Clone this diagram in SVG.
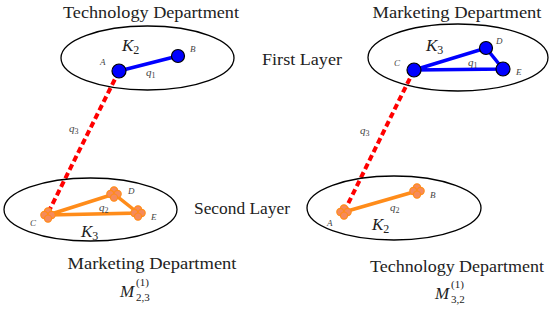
<svg xmlns="http://www.w3.org/2000/svg" width="550" height="314" viewBox="0 0 550 314">
<style>
.t{font-family:'Liberation Serif',serif;font-size:16px;fill:#222}
.m{font-family:'Liberation Serif',serif;font-style:italic;fill:#222}
.lbl{font-family:'Liberation Serif',serif;font-style:italic;fill:#444}
.sub{font-family:'Liberation Serif',serif;fill:#222}
.ell{fill:none;stroke:#000;stroke-width:1.3}
.bl{stroke:#0000ff;stroke-width:3.5;stroke-linecap:round;fill:none}
.or{stroke:#ff8c1a;stroke-width:3.5;stroke-linecap:round;fill:none}
.red{stroke:#ff0000;stroke-width:4;stroke-dasharray:6,3.5;fill:none}
.bn{fill:#0000ff;stroke:#000;stroke-width:1.2}
.on{fill:#f58a5c;stroke:#ff8c1a;stroke-width:1.2}
</style>
<defs>
<g id="clover">
<circle class="on" cx="0" cy="-3.6" r="3.6"/>
<circle class="on" cx="-3.6" cy="0" r="3.6"/>
<circle class="on" cx="3.6" cy="0" r="3.6"/>
<circle class="on" cx="0" cy="3.6" r="3.6"/>
</g>
</defs>
<rect width="550" height="314" fill="#fff"/>

<g id="texts">
<text class="t" x="151" y="18" text-anchor="middle" textLength="176" lengthAdjust="spacingAndGlyphs">Technology Department</text>
<text class="t" x="457" y="18" text-anchor="middle" textLength="169" lengthAdjust="spacingAndGlyphs">Marketing Department</text>
<text class="t" x="302" y="65" text-anchor="middle" textLength="80" lengthAdjust="spacingAndGlyphs">First Layer</text>
<text class="t" x="242" y="214" text-anchor="middle" textLength="96" lengthAdjust="spacingAndGlyphs">Second Layer</text>
<text class="t" x="152" y="269" text-anchor="middle" textLength="169" lengthAdjust="spacingAndGlyphs">Marketing Department</text>
<text class="t" x="457" y="272" text-anchor="middle" textLength="174" lengthAdjust="spacingAndGlyphs">Technology Department</text>
<text class="m" x="120" y="297" font-size="17">M</text>
<text class="sub" x="136" y="286" font-size="11">(1)</text>
<text class="sub" x="136" y="301" font-size="11">2,3</text>
<text class="m" x="435" y="299" font-size="17">M</text>
<text class="sub" x="451" y="288" font-size="11">(1)</text>
<text class="sub" x="451" y="303" font-size="11">3,2</text>
</g>

<g id="connectors">
<line class="red" x1="119" y1="71" x2="48" y2="213"/>
<line class="red" x1="414" y1="70" x2="344" y2="212"/>
<text class="lbl" x="69" y="132" font-size="11">q<tspan font-size="8" dy="2" font-style="normal">3</tspan></text>
<text class="lbl" x="360" y="134" font-size="11">q<tspan font-size="8" dy="2" font-style="normal">3</tspan></text>
</g>

<g id="tech-first">
<ellipse class="ell" cx="147.5" cy="58" rx="86.5" ry="32"/>
<text class="m" x="122" y="51" font-size="17">K<tspan class="sub" font-style="normal" font-size="12" dy="3">2</tspan></text>
<line class="bl" x1="119" y1="71" x2="178" y2="56"/>
<circle class="bn" cx="119" cy="71" r="7"/>
<circle class="bn" cx="178" cy="56" r="6.5"/>
<text class="lbl" font-size="9" x="100" y="65">A</text>
<text class="lbl" font-size="9" x="190" y="52">B</text>
<text class="lbl" x="146" y="76" font-size="11">q<tspan font-size="8" dy="2" font-style="normal">1</tspan></text>
</g>

<g id="mkt-first">
<ellipse class="ell" cx="458" cy="57.5" rx="90" ry="33.5"/>
<text class="m" x="426" y="51" font-size="17">K<tspan class="sub" font-style="normal" font-size="12" dy="3">3</tspan></text>
<polyline class="bl" points="414,70 486,48 503,69 414,70"/>
<circle class="bn" cx="414" cy="70" r="7"/>
<circle class="bn" cx="486" cy="48" r="6.5"/>
<circle class="bn" cx="503" cy="69" r="7"/>
<text class="lbl" font-size="9" x="394" y="66">C</text>
<text class="lbl" font-size="9" x="496" y="44">D</text>
<text class="lbl" font-size="9" x="516" y="75">E</text>
<text class="lbl" x="468" y="66" font-size="11">q<tspan font-size="8" dy="2" font-style="normal">1</tspan></text>
</g>

<g id="mkt-second">
<ellipse class="ell" cx="90.5" cy="209.5" rx="86.5" ry="31.5"/>
<text class="m" x="81" y="237" font-size="17">K<tspan class="sub" font-style="normal" font-size="12" dy="3">3</tspan></text>
<polyline class="or" points="48,215 114,194 138,213 48,215"/>
<use href="#clover" x="48" y="215"/>
<use href="#clover" x="114" y="194"/>
<use href="#clover" x="138" y="213"/>
<text class="lbl" font-size="9" x="30" y="226">C</text>
<text class="lbl" font-size="9" x="128" y="194">D</text>
<text class="lbl" font-size="9" x="151" y="220">E</text>
<text class="lbl" x="99" y="211" font-size="11">q<tspan font-size="8" dy="2" font-style="normal">2</tspan></text>
</g>

<g id="tech-second">
<ellipse class="ell" cx="394" cy="208" rx="87" ry="32"/>
<text class="m" x="372" y="230" font-size="17">K<tspan class="sub" font-style="normal" font-size="12" dy="3">2</tspan></text>
<line class="or" x1="344" y1="212" x2="417" y2="191"/>
<use href="#clover" x="344" y="212"/>
<use href="#clover" x="417" y="191"/>
<text class="lbl" font-size="9" x="327" y="226">A</text>
<text class="lbl" font-size="9" x="430" y="198">B</text>
<text class="lbl" x="390" y="211" font-size="11">q<tspan font-size="8" dy="2" font-style="normal">2</tspan></text>
</g>
</svg>
